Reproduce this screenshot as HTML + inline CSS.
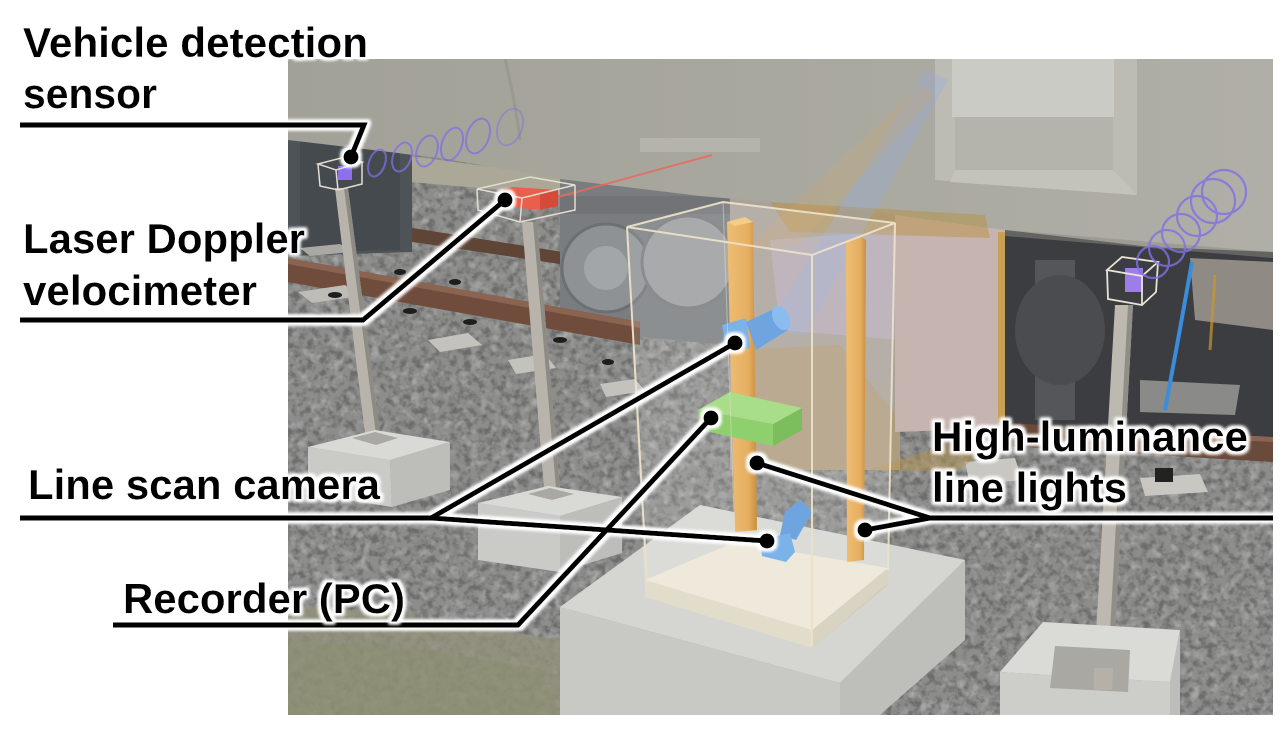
<!DOCTYPE html>
<html><head><meta charset="utf-8"><style>
html,body{margin:0;padding:0;background:#fff;}
svg{display:block;}
</style></head><body>
<svg width="1282" height="735" viewBox="0 0 1282 735" xmlns="http://www.w3.org/2000/svg">
<defs>
 <clipPath id="ph"><rect x="288" y="59" width="985" height="656"/></clipPath>
 <filter id="nz" filterUnits="userSpaceOnUse" x="288" y="59" width="985" height="656">
  <feTurbulence type="fractalNoise" baseFrequency="0.14" numOctaves="3" seed="7"/>
  <feColorMatrix type="matrix" values="0 0 0 0 0.15  0 0 0 0 0.15  0 0 0 0 0.15  -3.2 0 0 0 1.85"/>
 </filter>
 <filter id="nz2" filterUnits="userSpaceOnUse" x="288" y="59" width="985" height="656">
  <feTurbulence type="fractalNoise" baseFrequency="0.1" numOctaves="2" seed="19"/>
  <feColorMatrix type="matrix" values="0 0 0 0 0.85  0 0 0 0 0.85  0 0 0 0 0.85  3 0 0 0 -1.5"/>
 </filter>
 <filter id="halo" filterUnits="userSpaceOnUse" x="0" y="0" width="1282" height="735">
  <feMorphology in="SourceAlpha" operator="dilate" radius="2.5" result="d"/>
  <feGaussianBlur in="d" stdDeviation="1.6" result="b"/>
  <feFlood flood-color="#ffffff"/>
  <feComposite in2="b" operator="in" result="w"/>
  <feMerge><feMergeNode in="w"/><feMergeNode in="w"/><feMergeNode in="SourceGraphic"/></feMerge>
 </filter>
 <linearGradient id="body" x1="0" y1="0" x2="1" y2="0">
  <stop offset="0" stop-color="#a2a197"/>
  <stop offset="0.5" stop-color="#a9a89f"/>
  <stop offset="1" stop-color="#b0afa7"/>
 </linearGradient>
 <linearGradient id="bar" x1="0" y1="0" x2="1" y2="0">
  <stop offset="0" stop-color="#efbd72"/>
  <stop offset="0.7" stop-color="#e6af62"/>
  <stop offset="1" stop-color="#c98f40"/>
 </linearGradient>
</defs>

<rect width="1282" height="735" fill="#ffffff"/>

<g clip-path="url(#ph)">
 <!-- ballast base -->
 <rect x="288" y="59" width="985" height="656" fill="#8d8d8c"/>
 <rect x="288" y="59" width="985" height="656" filter="url(#nz)"/>
 <rect x="288" y="59" width="985" height="656" filter="url(#nz2)" opacity="0.3"/>

 <!-- grass -->
 <polygon points="288,605 380,612 470,625 560,640 600,660 600,715 288,715" fill="#939179" opacity="0.75"/>
 <polygon points="288,640 420,650 540,668 560,715 288,715" fill="#8a8e6e" opacity="0.4"/>

 <!-- far rail under train -->
 <polygon points="400,226 600,258 600,270 400,240" fill="#5e4536"/>
 <!-- far lit ballast band -->
 <polygon points="410,156 560,176 560,195 410,182" fill="#aba897"/>

 <!-- dark left underframe -->
 <polygon points="288,138 412,155 412,252 288,256" fill="#4e5358"/>
 <polygon points="300,140 400,152 400,250 300,252" fill="#454a4f"/>

 <!-- bogie middle -->
 <polygon points="560,176 730,196 730,345 560,330" fill="#7a7d80"/>
 <circle cx="606" cy="268" r="44" fill="#8f9295" stroke="#6d7073" stroke-width="3"/>
 <circle cx="606" cy="268" r="22" fill="#a3a6a8"/>
 <circle cx="688" cy="262" r="46" fill="#9a9c9e" stroke="#777a7c" stroke-width="3"/>
 <rect x="560" y="196" width="170" height="18" fill="#6a6d70" opacity="0.6"/>

 <!-- area behind glass box (light-tinted) -->
 <polygon points="730,196 900,212 900,470 730,470" fill="#aaa29a"/>
 <polygon points="770,240 900,230 900,340 780,330" fill="#b6adb8" opacity="0.8"/>
 <polygon points="735,350 840,345 900,420 900,470 760,470" fill="#b39460" opacity="0.45"/>

 <!-- pink light area -->
 <polygon points="895,212 1008,228 1008,428 895,432" fill="#c6b4b0"/>
 <rect x="998" y="232" width="7" height="190" fill="#c8972f" opacity="0.7"/>

 <!-- right dark bogie -->
 <polygon points="1005,230 1273,252 1273,445 1005,428" fill="#3c3d40"/>
 <rect x="1035" y="260" width="40" height="160" fill="#545659"/>
 <ellipse cx="1060" cy="330" rx="45" ry="55" fill="#4a4c4f"/>
 <polygon points="1190,258 1273,262 1273,330 1195,320" fill="#8f8a84"/>
 <polygon points="1140,380 1240,385 1235,415 1140,412" fill="#9d9d9b" opacity="0.8"/>
 <path d="M1192,262 L1178,340 L1165,410" stroke="#3a8ddb" stroke-width="4" fill="none"/>
 <path d="M1215,275 L1210,350" stroke="#c8972f" stroke-width="3" fill="none" opacity="0.7"/>

 <!-- near rail -->
 <polygon points="288,258 640,322 640,345 288,282" fill="#6f4c3b"/>
 <polygon points="288,258 640,322 640,328 288,264" fill="#8a6450"/>
 <polygon points="1005,423 1273,437 1273,462 1005,446" fill="#6a4a3a"/>
 <polygon points="1100,428 1273,437 1273,442 1100,433" fill="#8a6450"/>

 <!-- sleepers -->
 <polygon points="298,292 345,285 360,296 312,303" fill="#bdbcb7"/>
 <polygon points="428,340 468,333 482,345 440,352" fill="#c3c2bd"/>
 <polygon points="508,360 545,354 556,368 516,374" fill="#c3c2bd"/>
 <polygon points="600,384 635,379 645,391 606,397" fill="#c3c2bd"/>
 <polygon points="300,248 340,244 352,252 310,256" fill="#a9a8a3"/>
 <polygon points="965,462 1015,458 1022,480 970,485" fill="#c8c7c2"/>
 <polygon points="1140,478 1200,474 1208,492 1145,496" fill="#c8c7c2"/>
 <rect x="1155" y="468" width="18" height="14" fill="#222"/>
 <g fill="#1e1e1e">
  <ellipse cx="335" cy="295" rx="7" ry="3"/><ellipse cx="410" cy="311" rx="7" ry="3"/>
  <ellipse cx="470" cy="322" rx="7" ry="3"/><ellipse cx="560" cy="340" rx="7" ry="3"/>
  <ellipse cx="400" cy="272" rx="6" ry="3"/><ellipse cx="455" cy="282" rx="6" ry="3"/>
  <ellipse cx="608" cy="362" rx="6" ry="3"/>
 </g>
 <polygon points="870,470 960,440 1000,442 955,472" fill="#b8964f" opacity="0.5"/>

 <!-- train body -->
 <polygon points="288,59 1273,59 1273,252 1150,247 1005,230 880,213 770,202 700,196 560,179 440,158 288,140" fill="url(#body)"/>
 <path d="M505,59 Q515,100 520,140" stroke="#8f8e86" stroke-width="3" fill="none" opacity="0.5"/>
 <rect x="640" y="138" width="120" height="14" fill="#bebdb5" opacity="0.6"/>
 <!-- step panel -->
 <polygon points="935,59 1137,59 1137,195 935,180" fill="#bcbbb4"/>
 <rect x="952" y="59" width="162" height="58" fill="#cbcbc6"/>
 <rect x="955" y="117" width="158" height="53" fill="#b5b4ac"/>
 <polygon points="955,170 1113,170 1137,195 950,182" fill="#c3c2bb"/>
 <polygon points="1005,230 1273,252 1273,258 1005,236" fill="#8a8983" opacity="0.5"/>

 <!-- golden band below train -->
 <polygon points="770,202 985,215 990,238 790,232" fill="#b88e3a" opacity="0.45"/>
 <!-- light beams -->
 <polygon points="765,330 805,335 948,80 925,70" fill="#8eaee8" opacity="0.28"/>
 <polygon points="745,250 800,245 935,95 920,85" fill="#dba64c" opacity="0.18"/>

 <!-- left post 1 -->
 <polygon points="335,188 348,188 381,442 366,442" fill="#b8b4ac"/>
 <polygon points="344,188 348,188 381,442 377,442" fill="#8e8b84"/>
 <polygon points="308,447 390,460 392,507 308,494" fill="#cacac7"/>
 <polygon points="390,460 450,442 450,490 392,507" fill="#bdbdba"/>
 <polygon points="308,447 375,430 450,442 390,460" fill="#d9d9d6"/>
 <polygon points="352,438 375,432 398,438 376,445" fill="#a9a8a3"/>

 <!-- post 2 -->
 <polygon points="522,222 537,222 561,500 545,500" fill="#b8b4ac"/>
 <polygon points="533,222 537,222 561,500 557,500" fill="#8e8b84"/>
 <polygon points="478,503 560,516 560,572 478,560" fill="#cacac7"/>
 <polygon points="560,516 622,497 622,553 560,572" fill="#bdbdba"/>
 <polygon points="478,503 548,486 622,497 560,516" fill="#d9d9d6"/>
 <polygon points="528,494 550,488 574,494 552,500" fill="#a9a8a3"/>

 <!-- post 3 -->
 <polygon points="1115,305 1133,305 1113,668 1094,668" fill="#bdb9b1"/>
 <polygon points="1128,305 1133,305 1113,668 1108,668" fill="#918e87"/>
 <polygon points="1000,672 1170,682 1170,715 1000,715" fill="#cdcdca"/>
 <polygon points="1170,682 1180,630 1180,715 1170,715" fill="#bdbdba"/>
 <polygon points="1000,672 1043,622 1180,630 1170,682" fill="#dadad7"/>
 <polygon points="1055,646 1130,650 1128,692 1050,688" fill="#a9a8a3"/>
 <polygon points="1094,668 1113,668 1112,690 1094,690" fill="#b5b1a9"/>

 <!-- main slab -->
 <polygon points="560,607 840,683 840,715 560,715" fill="#c8c8c5"/>
 <polygon points="840,683 965,560 965,640 880,715 840,715" fill="#bebebb"/>
 <polygon points="560,607 700,505 965,560 840,683" fill="#d5d5d2"/>

 <!-- glass box tray -->
 <polygon points="645,580 812,630 812,648 645,597" fill="#ded7c2"/>
 <polygon points="812,630 888,568 888,585 812,648" fill="#d3ccb7"/>
 <polygon points="645,580 735,542 888,568 812,630" fill="#ece6d4"/>

 <!-- glass interior tint -->
 <polygon points="627,227 723,202 895,223 888,583 812,648 645,597" fill="#ffffff" opacity="0.14"/>

 <!-- orange light bars -->
 <polygon points="727,222 745,217 753,222 757,530 735,532" fill="url(#bar)"/>
 <polygon points="727,222 745,217 753,222 735,226" fill="#f3cc88"/>
 <polygon points="846,241 860,236 866,240 864,560 847,562" fill="url(#bar)"/>

 <!-- upper camera -->
 <polygon points="746,322 776,308 788,330 756,350" fill="#6ea5e0"/>
 <ellipse cx="781" cy="318" rx="8" ry="13" transform="rotate(-25 781 318)" fill="#8bbcf0"/>
 <polygon points="722,325 746,318 750,348 727,352" fill="#7cb2ea"/>
 <!-- recorder -->
 <polygon points="698,410 773,424 773,446 700,430" fill="#8ecf6e"/>
 <polygon points="773,424 802,408 802,430 773,446" fill="#7cbd5c"/>
 <polygon points="698,410 730,392 802,408 773,424" fill="#a8dd8a"/>
 <!-- lower camera -->
 <polygon points="785,512 800,500 812,512 796,540 780,535" fill="#6ea5e0"/>
 <polygon points="760,540 790,533 795,552 786,562 762,556" fill="#7cb2ea"/>

 <!-- glass edges -->
 <g stroke="#ece2c9" stroke-width="2" fill="none" opacity="0.95">
  <polygon points="627,227 723,202 895,223 812,255"/>
  <line x1="627" y1="227" x2="647" y2="583"/>
  <line x1="812" y1="255" x2="812" y2="646"/>
  <line x1="895" y1="223" x2="888" y2="570"/>
 </g>
 <line x1="723" y1="202" x2="735" y2="540" stroke="#ece2c9" stroke-width="1" opacity="0.5"/>

 <!-- sensor box 1 -->
 <rect x="338" y="166" width="14" height="14" fill="#8d6ff0"/>
 <g stroke="#e2ddd0" stroke-width="1.5" fill="none">
  <polygon points="318,164 345,157 362,162 336,170"/>
  <polyline points="318,164 320,186 338,190 362,184 362,162"/>
  <line x1="336" y1="170" x2="338" y2="190"/>
 </g>
 <!-- rings left -->
 <g stroke="#7f70e6" stroke-width="2" fill="none" opacity="0.75">
  <ellipse cx="377" cy="163" rx="8" ry="14" transform="rotate(20 377 163)"/>
  <ellipse cx="402" cy="157" rx="9" ry="15" transform="rotate(20 402 157)"/>
  <ellipse cx="427" cy="151" rx="10" ry="16" transform="rotate(20 427 151)"/>
  <ellipse cx="452" cy="144" rx="10" ry="17" transform="rotate(20 452 144)"/>
  <ellipse cx="478" cy="136" rx="11" ry="18" transform="rotate(20 478 136)"/>
  <ellipse cx="510" cy="127" rx="12" ry="19" transform="rotate(20 510 127)" opacity="0.6"/>
 </g>

 <!-- LDV -->
 <line x1="558" y1="197" x2="712" y2="155" stroke="#ea6a5c" stroke-width="2" opacity="0.85"/>
 <polygon points="497,192 512,187 558,190 558,206 540,210 497,206" fill="#ea5e4c"/>
 <polygon points="540,194 558,190 558,206 540,210" fill="#d64a3c"/>
 <g stroke="#e2ddd0" stroke-width="1.5" fill="none">
  <polygon points="477,189 530,177 575,185 522,198"/>
  <polyline points="477,189 478,210 520,222 575,210 575,185"/>
  <line x1="522" y1="198" x2="520" y2="222"/>
 </g>

 <!-- sensor box 3 -->
 <rect x="1125" y="268" width="18" height="24" fill="#9d7ee8"/>
 <g stroke="#e8e3d6" stroke-width="1.8" fill="none">
  <polygon points="1107,270 1122,257 1158,262 1142,276"/>
  <polyline points="1107,270 1108,299 1142,305 1156,292 1158,262"/>
  <line x1="1142" y1="276" x2="1142" y2="305"/>
 </g>
 <g stroke="#8070e6" stroke-width="2.2" fill="none" opacity="0.8">
  <circle cx="1153" cy="262" r="16"/>
  <circle cx="1167" cy="248" r="18"/>
  <circle cx="1181" cy="233" r="19"/>
  <circle cx="1197" cy="216" r="20"/>
  <circle cx="1213" cy="201" r="22"/>
  <circle cx="1224" cy="192" r="22"/>
 </g>
</g>

<!-- callout lines -->
<g filter="url(#halo)">
 <g stroke="#000" stroke-width="5" fill="none" stroke-linejoin="miter">
  <polyline points="20,125 364,125 351,157"/>
  <polyline points="20,320 363,320 505,200"/>
  <polyline points="20,518 431,518 735,343"/>
  <line x1="431" y1="518" x2="767" y2="541"/>
  <polyline points="113,625 518,625 711,418"/>
  <polyline points="1273,518 930,518 757,463"/>
  <line x1="930" y1="518" x2="865" y2="530"/>
 </g>
 <g fill="#000">
  <circle cx="351" cy="157" r="7.5"/>
  <circle cx="505" cy="200" r="7.5"/>
  <circle cx="735" cy="343" r="7.5"/>
  <circle cx="767" cy="541" r="7.5"/>
  <circle cx="711" cy="418" r="7.5"/>
  <circle cx="757" cy="463" r="7.5"/>
  <circle cx="865" cy="530" r="7.5"/>
 </g>
</g>

<!-- labels -->
<g filter="url(#halo)" font-family="'Liberation Sans', Arial, sans-serif" font-weight="bold" font-size="42" fill="#000">
 <text x="23" y="57" textLength="345" lengthAdjust="spacingAndGlyphs">Vehicle detection</text>
 <text x="23" y="108" textLength="134" lengthAdjust="spacingAndGlyphs">sensor</text>
 <text x="23" y="253" textLength="282" lengthAdjust="spacingAndGlyphs">Laser Doppler</text>
 <text x="23" y="305" textLength="234" lengthAdjust="spacingAndGlyphs">velocimeter</text>
 <text x="28" y="499" textLength="352" lengthAdjust="spacingAndGlyphs">Line scan camera</text>
 <text x="123" y="613" textLength="282" lengthAdjust="spacingAndGlyphs">Recorder (PC)</text>
 <text x="932" y="451" textLength="316" lengthAdjust="spacingAndGlyphs">High-luminance</text>
 <text x="932" y="502" textLength="195" lengthAdjust="spacingAndGlyphs">line lights</text>
</g>
</svg>
</body></html>
